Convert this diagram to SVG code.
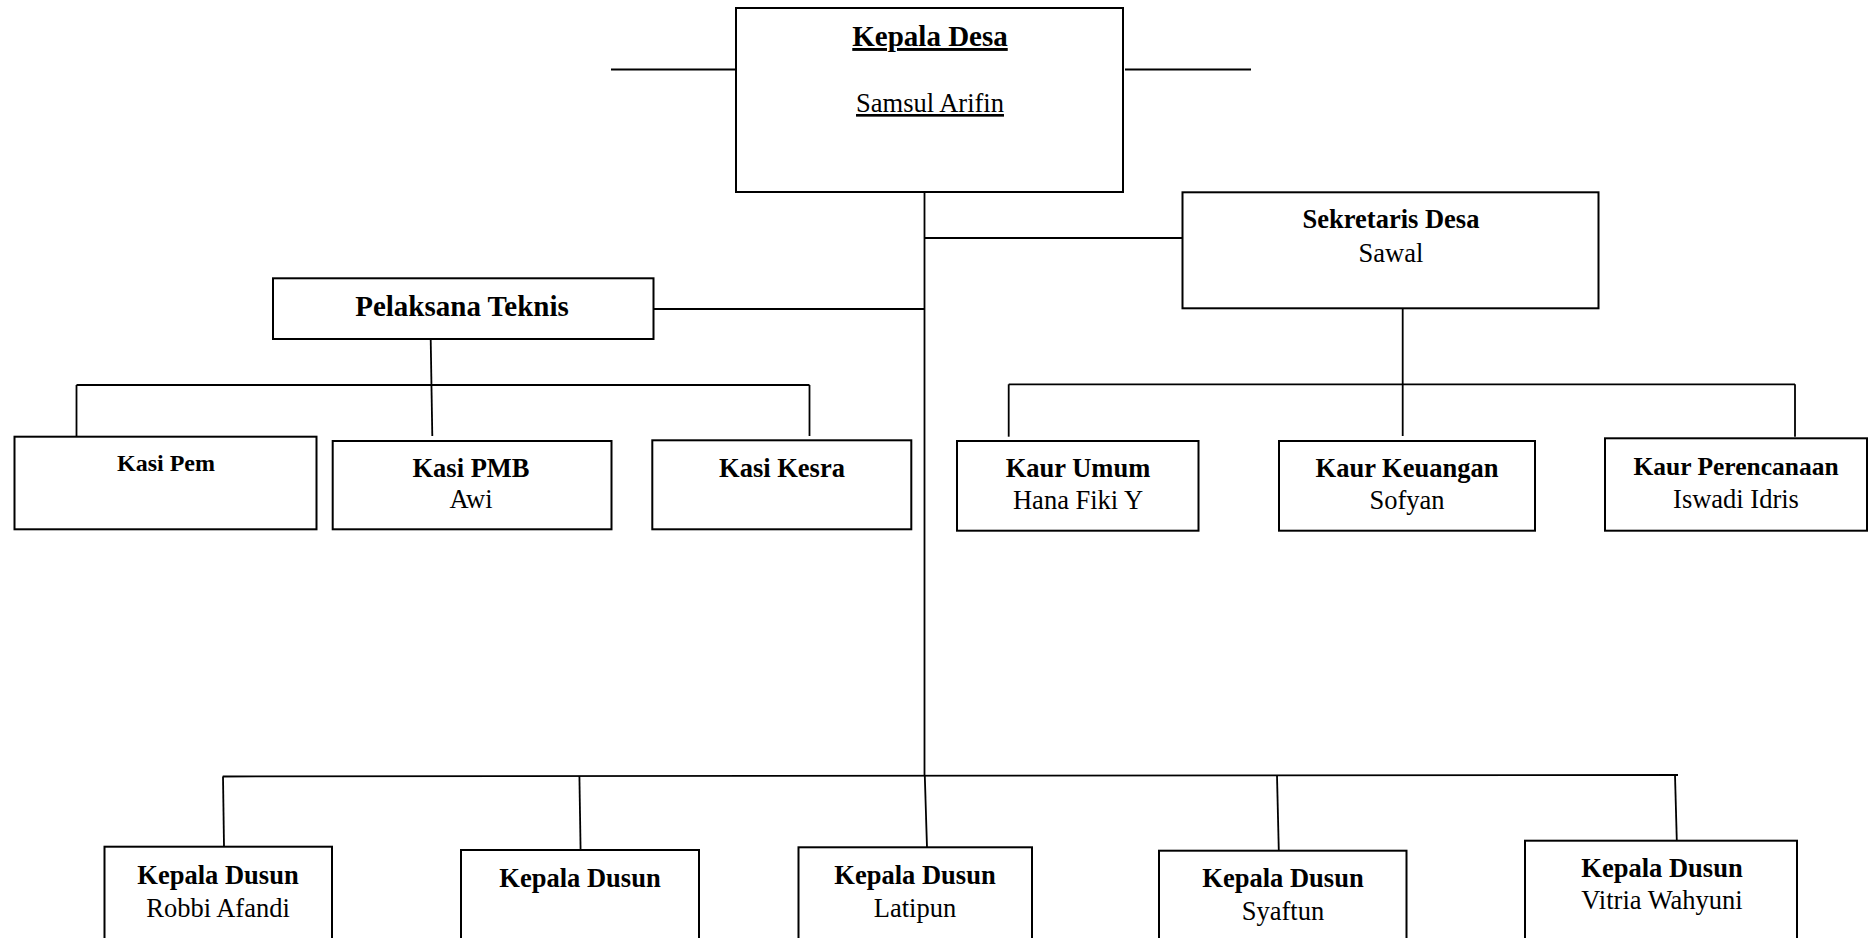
<svg xmlns="http://www.w3.org/2000/svg" width="1872" height="938" viewBox="0 0 1872 938">
<style>
.box{fill:#fff;stroke:#000;stroke-width:2}
.ln{fill:none;stroke:#000;stroke-width:1.8}
text{font-family:"Liberation Serif","Times New Roman",serif;font-size:26.5px;fill:#000;text-anchor:middle}
.b{font-weight:bold}
.u{text-decoration:underline}
</style>
<rect width="1872" height="938" fill="#fff"/>
<g id="connectors">
<line class="ln" x1="611" y1="69.5" x2="736" y2="69.5"/>
<line class="ln" x1="1125" y1="69.5" x2="1251" y2="69.5"/>
<line class="ln" x1="924.5" y1="192" x2="924.5" y2="776"/>
<line class="ln" x1="924.5" y1="238" x2="1182.5" y2="238"/>
<line class="ln" x1="653.5" y1="309" x2="924.5" y2="309"/>
<line class="ln" x1="430.7" y1="339" x2="432.3" y2="436"/>
<line class="ln" x1="76.5" y1="385" x2="809.5" y2="385"/>
<line class="ln" x1="76.5" y1="385" x2="76.5" y2="437"/>
<line class="ln" x1="809.5" y1="385" x2="809.5" y2="436"/>
<line class="ln" x1="1402.7" y1="308.3" x2="1402.7" y2="436"/>
<line class="ln" x1="1008.7" y1="384.3" x2="1795" y2="384.3"/>
<line class="ln" x1="1008.7" y1="384.3" x2="1008.7" y2="436.7"/>
<line class="ln" x1="1795" y1="384.3" x2="1795" y2="436.7"/>
<line class="ln" x1="222.7" y1="776.5" x2="1678" y2="775"/>
<line class="ln" x1="223" y1="776.5" x2="224" y2="846.7"/>
<line class="ln" x1="579.4" y1="776" x2="580.6" y2="850"/>
<line class="ln" x1="924.8" y1="776" x2="927" y2="847.3"/>
<line class="ln" x1="1277" y1="775.5" x2="1278.8" y2="850.7"/>
<line class="ln" x1="1675" y1="775" x2="1676.8" y2="840.7"/>
</g>
<g id="kepala-desa">
<rect class="box" x="736" y="8" width="387" height="184"/>
<text class="b u" x="930" y="46" style="font-size:29px">Kepala Desa</text>
<text class="u" x="930" y="112">Samsul Arifin</text>
</g>
<g id="sekretaris-desa">
<rect class="box" x="1182.5" y="192.3" width="416" height="116"/>
<text class="b" x="1391" y="228">Sekretaris Desa</text>
<text x="1391" y="261.5">Sawal</text>
</g>
<g id="pelaksana-teknis">
<rect class="box" x="273" y="278.3" width="380.5" height="60.7"/>
<text class="b" x="462" y="316" style="font-size:29px">Pelaksana Teknis</text>
</g>
<g id="kasi-pem">
<rect class="box" x="14.5" y="436.7" width="302" height="92.6"/>
<text class="b" x="166" y="471" style="font-size:24px">Kasi Pem</text>
</g>
<g id="kasi-pmb">
<rect class="box" x="332.7" y="441" width="278.8" height="88.3"/>
<text class="b" x="471" y="476.7">Kasi PMB</text>
<text x="471" y="508.3">Awi</text>
</g>
<g id="kasi-kesra">
<rect class="box" x="652.3" y="440.3" width="259" height="89"/>
<text class="b" x="782" y="476.7">Kasi Kesra</text>
</g>
<g id="kaur-umum">
<rect class="box" x="957" y="441" width="241.5" height="89.7"/>
<text class="b" x="1078" y="476.7">Kaur Umum</text>
<text x="1078" y="509.3">Hana Fiki Y</text>
</g>
<g id="kaur-keuangan">
<rect class="box" x="1279" y="441" width="256" height="89.7"/>
<text class="b" x="1407" y="476.7">Kaur Keuangan</text>
<text x="1407" y="509.3">Sofyan</text>
</g>
<g id="kaur-perencanaan">
<rect class="box" x="1605" y="438.3" width="262" height="92.4"/>
<text class="b" x="1736" y="475" style="font-size:25.5px">Kaur Perencanaan</text>
<text x="1736" y="508.3">Iswadi Idris</text>
</g>
<g id="kepala-dusun-1">
<rect class="box" x="104.5" y="846.7" width="227.5" height="110"/>
<text class="b" x="218" y="884">Kepala Dusun</text>
<text x="218" y="917">Robbi Afandi</text>
</g>
<g id="kepala-dusun-2">
<rect class="box" x="461" y="850" width="238" height="110"/>
<text class="b" x="580" y="886.7">Kepala Dusun</text>
</g>
<g id="kepala-dusun-3">
<rect class="box" x="798.5" y="847.3" width="233.5" height="110"/>
<text class="b" x="915" y="884.3">Kepala Dusun</text>
<text x="915" y="916.7">Latipun</text>
</g>
<g id="kepala-dusun-4">
<rect class="box" x="1159" y="850.7" width="247.5" height="110"/>
<text class="b" x="1283" y="886.7">Kepala Dusun</text>
<text x="1283" y="920">Syaftun</text>
</g>
<g id="kepala-dusun-5">
<rect class="box" x="1525" y="840.7" width="272" height="110"/>
<text class="b" x="1662" y="876.7">Kepala Dusun</text>
<text x="1662" y="909">Vitria Wahyuni</text>
</g>
</svg>
